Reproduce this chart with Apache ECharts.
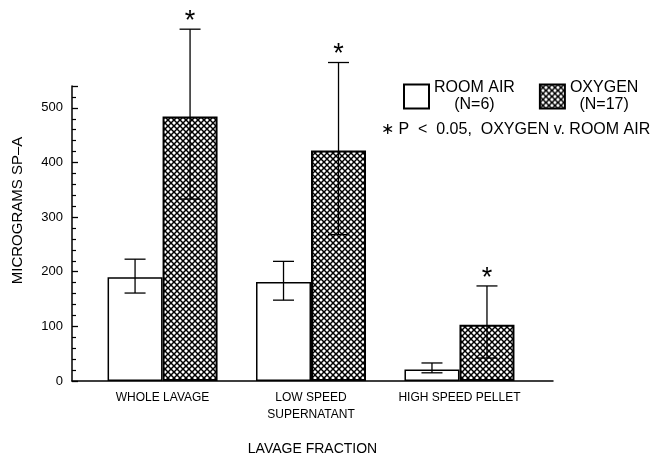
<!DOCTYPE html>
<html><head><meta charset="utf-8">
<script src="https://cdn.jsdelivr.net/npm/echarts@6/dist/echarts.min.js"></script>
<style>html,body{margin:0;padding:0;background:#fff}#c{width:656px;height:461px}</style>
</head><body><div id="c"></div>
<script>
var categories = ['WHOLE LAVAGE', 'LOW SPEED\nSUPERNATANT', 'HIGH SPEED PELLET'];
var positions = [0, 1, 2];
var roomAir = [190, 181, 21];
var roomAirLow = [161, 148, 15];
var roomAirHigh = [223, 219, 33];
var oxygen = [484, 422, 103];
var oxygenLow = [333, 268, 42];
var oxygenHigh = [644, 583, 174];
var significant = [true, true, true];
var yTicks = [0, 100, 200, 300, 400, 500];

var FONT = '"Liberation Sans", Arial, sans-serif';
var BARW = 55;

var cv = document.createElement('canvas');
cv.width = 6; cv.height = 6;
var cx = cv.getContext('2d');
cx.fillStyle = '#fff'; cx.fillRect(0,0,6,6);
cx.strokeStyle = '#000'; cx.lineWidth = 1.5;
[-6,0,6].forEach(function(o){
  cx.beginPath(); cx.moveTo(o,0); cx.lineTo(o+6,6); cx.stroke();
  cx.beginPath(); cx.moveTo(o+6,0); cx.lineTo(o,6); cx.stroke();
});
var hatch = {image: cv, repeat: 'repeat'};

function pairs(vals){ return positions.map(function(p,i){ return [p, vals[i]]; }); }
function errData(lo, hi, sig){ return positions.map(function(p,i){ return [p, lo[i], hi[i], sig ? (sig[i]?1:0) : 0]; }); }

function errRender(side){
  return function(params, api){
    var x = api.value(0);
    var lo = api.coord([x, api.value(1)]);
    var hi = api.coord([x, api.value(2)]);
    var px = lo[0] + side * BARW / 2;
    var cap = 10.5;
    var st = {stroke:'#000', lineWidth:1.3};
    var ch = [
      {type:'line', shape:{x1:px,y1:lo[1],x2:px,y2:hi[1]}, style:st},
      {type:'line', shape:{x1:px-cap,y1:lo[1],x2:px+cap,y2:lo[1]}, style:st},
      {type:'line', shape:{x1:px-cap,y1:hi[1],x2:px+cap,y2:hi[1]}, style:st}
    ];
    if (api.value(3)) {
      ch.push({type:'text', style:{text:'*', x:px, y:hi[1]+6, align:'center', verticalAlign:'bottom', font:'27px ' + FONT, fill:'#000'}});
    }
    return {type:'group', children: ch};
  };
}

var chart = echarts.init(document.getElementById('c'), null, {renderer:'canvas'});
chart.setOption({
  animation: false,
  backgroundColor: '#fff',
  textStyle: {fontFamily: FONT, color:'#000'},
  title: {
    text: '∗ P  <  0.05,  OXYGEN v. ROOM AIR',
    left: 381, top: 122, padding: 0,
    textStyle: {fontFamily: FONT, fontSize: 16, fontWeight: 'normal', color: '#000'}
  },
  legend: {
    left: 403, top: 80, padding: 0,
    itemWidth: 25, itemHeight: 24, itemGap: 24, icon: 'rect',
    data: ['ROOM AIR', 'OXYGEN'],
    formatter: function(n){ return n === 'ROOM AIR' ? '{a|ROOM AIR}\n{b|(N=6)}' : '{a|OXYGEN}\n{b|(N=17)}'; },
    textStyle: {
      fontFamily: FONT, color:'#000',
      rich: {
        a: {fontSize: 16, lineHeight: 17, fontFamily: FONT, align:'center'},
        b: {fontSize: 16, lineHeight: 17, fontFamily: FONT, align:'center'}
      }
    }
  },
  grid: {left: 72, right: 103, top: 86, bottom: 79},
  xAxis: {
    type: 'value', min: -0.61, max: 2.63,
    name: 'LAVAGE FRACTION', nameLocation: 'middle', nameGap: 61,
    nameTextStyle: {fontSize: 14, fontFamily: FONT, color:'#000'},
    axisLine: {show: true, onZero: false, lineStyle: {color:'#000', width: 1.5}},
    axisTick: {show: false},
    splitLine: {show: false},
    axisLabel: {
      customValues: positions,
      formatter: function(v){ var i = Math.round(v); return categories[i] || ''; },
      fontSize: 12, fontFamily: FONT, color:'#000', margin: 8, lineHeight: 17
    }
  },
  yAxis: {
    type: 'value', min: 0, max: 540, interval: 100,
    name: 'MICROGRAMS SP–A', nameLocation: 'middle', nameGap: 47,
    nameTextStyle: {fontSize: 15, fontFamily: FONT, color:'#000', padding: [0,0,0,46]},
    axisLine: {show: true, onZero: false, lineStyle: {color:'#000', width: 1.5}},
    axisTick: {show: true, inside: true, length: 6, lineStyle: {color:'#000', width: 1.3}},
    minorTick: {show: true, splitNumber: 5, length: 4, lineStyle: {color:'#000', width: 1.2}},
    splitLine: {show: false},
    minorSplitLine: {show: false},
    axisLabel: {
      formatter: function(v){ return yTicks.indexOf(v) >= 0 ? String(v) : ''; },
      fontSize: 13, fontFamily: FONT, color:'#000', margin: 9
    }
  },
  series: [
    {name:'ROOM AIR', type:'bar', data: pairs(roomAir), barWidth: BARW, barGap: '0%',
     itemStyle: {color:'#fff', borderColor:'#000', borderWidth: 1.5}},
    {name:'OXYGEN', type:'bar', data: pairs(oxygen), barWidth: BARW, barGap: '0%',
     itemStyle: {color: hatch, borderColor:'#000', borderWidth: 2}},
    {type:'custom', data: errData(roomAirLow, roomAirHigh, null), renderItem: errRender(-1), z: 5, clip: false},
    {type:'custom', data: errData(oxygenLow, oxygenHigh, significant), renderItem: errRender(1), z: 5, clip: false}
  ]
});
</script></body></html>
